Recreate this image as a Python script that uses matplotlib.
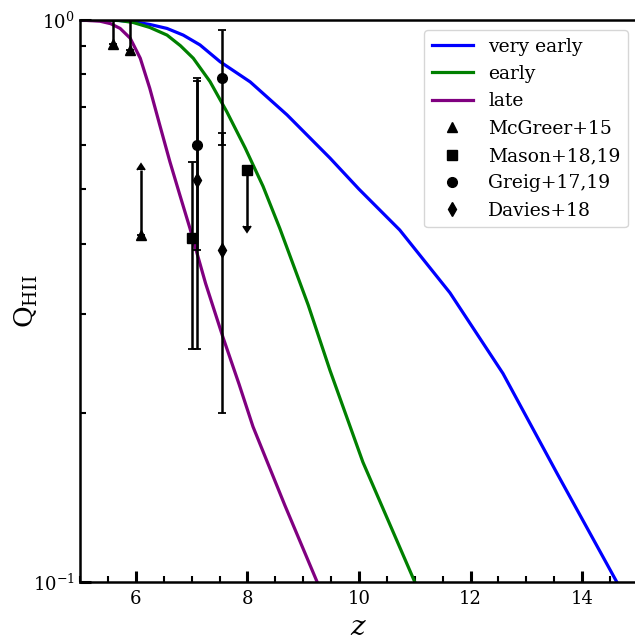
import numpy as np
import matplotlib.pyplot as plt
from matplotlib.ticker import MultipleLocator, NullFormatter

plt.rcParams['font.family'] = 'DejaVu Serif'
plt.rcParams['mathtext.fontset'] = 'dejavuserif'

# reionisation histories
z_vearly = [5.0, 5.4, 5.7, 5.95, 6.25, 6.56, 6.85, 7.15, 7.51, 8.05, 8.71, 9.48, 10.0, 10.73, 11.63,
            12.58, 13.55, 14.62, 15.0]
q_vearly = [1.0, 1.0, 0.998, 0.993, 0.982, 0.966, 0.94, 0.903, 0.843, 0.776, 0.678, 0.568, 0.50,
            0.423, 0.327, 0.235, 0.156, 0.1, 0.0856]

z_early = [5.0, 5.4, 5.7, 5.95, 6.25, 6.56, 6.8, 7.03, 7.33, 7.63, 7.96, 8.28, 8.58, 9.09, 9.48,
           10.07, 11.0, 11.31]
q_early = [1.0, 1.0, 0.998, 0.99, 0.97, 0.94, 0.90, 0.855, 0.777, 0.687, 0.592, 0.506, 0.426, 0.311,
           0.238, 0.1634, 0.1, 0.0856]

z_late = [5.0, 5.36, 5.55, 5.72, 5.90, 6.08, 6.25, 6.43, 6.61, 6.79, 6.97, 7.25, 7.56, 7.85, 8.1,
          8.67, 9.25, 9.53]
q_late = [1.0, 0.995, 0.985, 0.966, 0.928, 0.855, 0.756, 0.65, 0.56, 0.488, 0.426, 0.34, 0.273,
          0.225, 0.189, 0.137, 0.1, 0.0856]

# observational constraints
z_mcgreer = [5.6, 5.9, 6.1]
q_mcgreer = [0.905, 0.885, 0.415]
up_mcgreer = [0.2, 0.2, 0.125]

z_mason = [7.0]
q_mason = [0.41]
lo_mason = [0.15]
hi_mason = [0.15]
z_mason_lim = [8.0]
q_mason_lim = [0.54]
dn_mason_lim = [0.11]

z_greig = [7.09, 7.54]
q_greig = [0.60, 0.79]
lo_greig = [0.21, 0.19]
hi_greig = [0.19, 0.17]

z_davies = [7.09, 7.54]
q_davies = [0.52, 0.39]
lo_davies = [0.26, 0.19]
hi_davies = [0.26, 0.24]

fig = plt.figure(figsize=(6.35, 6.4), dpi=100)
ax = fig.add_axes([80 / 635, 58 / 640, 558 / 635, 562 / 640])

ax.plot(z_vearly, q_vearly, color='blue', lw=2.3, label='very early')
ax.plot(z_early, q_early, color='green', lw=2.3, label='early')
ax.plot(z_late, q_late, color='purple', lw=2.3, label='late')

eb = dict(fmt='none', color='black', ecolor='black', elinewidth=1.8, capsize=3, capthick=1.3)
ax.errorbar(z_mcgreer, q_mcgreer, yerr=[np.zeros(3), up_mcgreer], lolims=True, **eb)
ax.errorbar(z_mason, q_mason, yerr=[lo_mason, hi_mason], **eb)
ax.errorbar(z_mason_lim, q_mason_lim, yerr=[dn_mason_lim, [0]], uplims=True, **eb)
ax.errorbar(z_greig, q_greig, yerr=[lo_greig, hi_greig], **eb)
ax.errorbar(z_davies, q_davies, yerr=[lo_davies, hi_davies], **eb)

ax.plot(z_mcgreer, q_mcgreer, '^', color='black', ms=7, ls='none', label='McGreer+15')
ax.plot(z_mason + z_mason_lim, q_mason + q_mason_lim, 's', color='black', ms=6.5,
        ls='none', label='Mason+18,19')
ax.plot(z_greig, q_greig, 'o', color='black', ms=7, ls='none', label='Greig+17,19')
ax.plot(z_davies, q_davies, 'd', color='black', ms=7, ls='none', label='Davies+18')

ax.set_yscale('log')
ax.set_xlim(5, 15)
ax.set_ylim(0.1, 1.0)

ax.xaxis.set_major_locator(MultipleLocator(2))
ax.xaxis.set_minor_locator(MultipleLocator(0.5))
ax.yaxis.set_minor_formatter(NullFormatter())
ax.tick_params(which='major', direction='in', length=8, width=2.2, labelsize=13, pad=6)
ax.tick_params(which='minor', direction='in', length=4.5, width=1.5)
ax.tick_params(axis='y', which='major', pad=4)

for s in ['left', 'bottom', 'top']:
    ax.spines[s].set_linewidth(1.8)
ax.spines['right'].set_visible(False)

ax.set_xlabel('$z$', fontsize=20, labelpad=4)
ax.set_ylabel(r'$\mathrm{Q_{HII}}$', fontsize=19)
ax.yaxis.set_label_coords(-0.072, 0.5)

ax.legend(loc='upper right', fontsize=13.5, bbox_to_anchor=(0.982, 0.982),
          handlelength=2.2, borderaxespad=0)

fig.savefig('out.png', dpi=100)
